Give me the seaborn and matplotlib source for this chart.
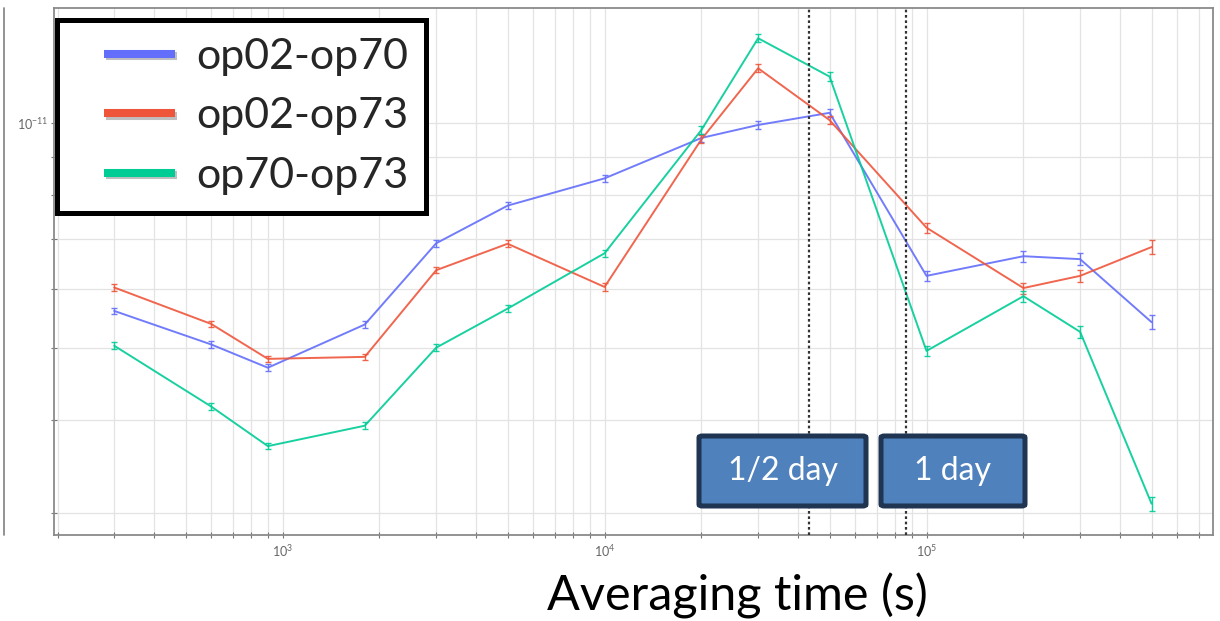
import numpy as np
import pandas as pd
import matplotlib
matplotlib.use("Agg")
import matplotlib.pyplot as plt
import matplotlib.ticker as mticker
import matplotlib.patheffects as pe
from matplotlib.patches import FancyBboxPatch
from matplotlib.lines import Line2D
from matplotlib.legend_handler import HandlerLine2D
import seaborn as sns

# ---------------- data ----------------
tau = [300, 600, 900, 1800, 3000, 5000, 10000, 20000, 30000, 50000,
       100000, 200000, 300000, 500000]
op02_op70 = [5.60e-12, 5.05e-12, 4.70e-12, 5.37e-12, 6.90e-12, 7.75e-12, 8.43e-12,
             9.55e-12, 9.94e-12, 1.032e-11, 6.24e-12, 6.63e-12, 6.57e-12, 5.41e-12]
op02_op73 = [6.02e-12, 5.38e-12, 4.83e-12, 4.86e-12, 6.35e-12, 6.89e-12, 6.03e-12,
             9.51e-12, 1.184e-11, 1.009e-11, 7.24e-12, 6.01e-12, 6.24e-12, 6.82e-12]
op70_op73 = [5.03e-12, 4.17e-12, 3.69e-12, 3.93e-12, 5.00e-12, 5.64e-12, 6.69e-12,
             9.79e-12, 1.299e-11, 1.154e-11, 4.95e-12, 5.86e-12, 5.25e-12, 3.09e-12]
err_pct = [1.0, 1.0, 1.0, 1.0, 1.0, 1.1, 1.1, 1.2, 1.2, 1.3, 1.5, 1.7, 1.9, 2.2]
series_names = ["op02-op70", "op02-op73", "op70-op73"]
colors = ["#636EFA", "#EF553B", "#00CC96"]
marker_times = [43200, 86400]
marker_labels = ["1/2 day", "1 day"]
xlabel = "Averaging time (s)"
x_major = [1e3, 1e4, 1e5]
y_major = [1e-11]

# ---------------- style ----------------
sns.set_theme(style="white")
plt.rcParams["font.family"] = ["Lato", "DejaVu Sans"]
plt.rcParams["mathtext.fontset"] = "dejavuserif"

rows = []
for name, vals in zip(series_names, [op02_op70, op02_op73, op70_op73]):
    for t, v, e in zip(tau, vals, err_pct):
        rows.append({"tau": t, "adev": v, "err": v * e / 100.0, "pair": name})
df = pd.DataFrame(rows)

fig = plt.figure(figsize=(12.2, 6.21), dpi=100)
ax = fig.add_axes([54 / 1220, 1 - 535 / 621, (1213 - 54) / 1220, (535 - 8) / 621])

ax.set_xscale("log")
ax.set_yscale("log")

sns.lineplot(data=df, x="tau", y="adev", hue="pair", hue_order=series_names,
             palette=colors, linewidth=1.4, alpha=0.9, legend=False, ax=ax,
             estimator=None, sort=True)
for name, col in zip(series_names, colors):
    sub = df[df["pair"] == name]
    ax.errorbar(sub["tau"], sub["adev"], yerr=sub["err"], fmt="none",
                ecolor=col, elinewidth=1.0, capsize=2.5, capthick=1.0, alpha=0.9)

ax.set_xlim(195, 7.76e5)
ax.set_ylim(2.805e-12, 1.426e-11)

# grid & ticks
ax.grid(True, which="both", color="#e3e3e3", linewidth=0.9)
ax.set_axisbelow(True)
ax.xaxis.set_major_locator(mticker.FixedLocator(x_major))
ax.xaxis.set_minor_locator(mticker.LogLocator(base=10, subs=np.arange(2, 10)))
ax.xaxis.set_minor_formatter(mticker.NullFormatter())
ax.xaxis.set_major_formatter(mticker.LogFormatterSciNotation())
ax.yaxis.set_major_locator(mticker.FixedLocator(y_major))
ax.yaxis.set_minor_locator(mticker.LogLocator(base=10, subs=np.arange(2, 10)))
ax.yaxis.set_minor_formatter(mticker.NullFormatter())
ax.yaxis.set_major_formatter(mticker.LogFormatterSciNotation())
ax.tick_params(axis="both", which="both", direction="inout", colors="#777777",
               labelcolor="#666666", labelsize=9, length=4, width=0.8,
               bottom=True, left=True)
ax.tick_params(axis="x", which="major", pad=4)
ax.tick_params(axis="y", which="major", pad=2)
for s in ax.spines.values():
    s.set_color("#8a8a8a")
    s.set_linewidth(1.3)

ax.set_xlabel("")
ax.set_ylabel("")
fig.text(737 / 1220, 1 - 596 / 621, xlabel, ha="center", va="center",
         fontsize=35, color="black")

# vertical marker lines
for t in marker_times:
    ax.axvline(t, color="#333333", linestyle=(0, (1.2, 1.2)), linewidth=1.6, zorder=3)

# annotation boxes
box_specs = [(699, 866), (881, 1025)]
for (x0, x1), lab in zip(box_specs, marker_labels):
    fx0 = (x0 - 54) / 1159
    fw = (x1 - x0) / 1159
    fy0 = (535 - 506) / 527
    fh = 70 / 527
    rect = FancyBboxPatch((fx0, fy0), fw, fh, boxstyle="round,pad=0,rounding_size=0.003",
                          transform=ax.transAxes, facecolor="#4F81BD",
                          edgecolor="#1F3552", linewidth=3.6, zorder=5)
    ax.add_patch(rect)
    ax.text(fx0 + fw / 2, fy0 + fh / 2, lab, transform=ax.transAxes, ha="center",
            va="center", color="white", fontsize=23, zorder=6)

# legend
handles = []
for name, col in zip(series_names, colors):
    h = Line2D([0], [0], color=col, linewidth=5.8, solid_capstyle="butt",
               path_effects=[pe.SimpleLineShadow(offset=(1.5, -2), shadow_color="gray", alpha=0.5),
                             pe.Normal()])
    handles.append(h)
leg = ax.legend(handles, series_names, loc="upper left", bbox_to_anchor=(0.003, 0.978),
                borderaxespad=0, fontsize=31, frameon=True, fancybox=False,
                framealpha=1, edgecolor="black", handlelength=2.3,
                handletextpad=0.5, borderpad=0.42, labelspacing=0.5,
                handler_map={Line2D: HandlerLine2D(xpad=0.67)})
leg.get_frame().set_linewidth(3.6)
leg.set_zorder(10)

# partial frame of neighbouring panel at far left
fig.add_artist(Line2D([4 / 1220, 4 / 1220], [1 - 8 / 621, 1 - 535 / 621],
                      transform=fig.transFigure, color="#8a8a8a", linewidth=1.3))

fig.savefig("out.png", dpi=100)
